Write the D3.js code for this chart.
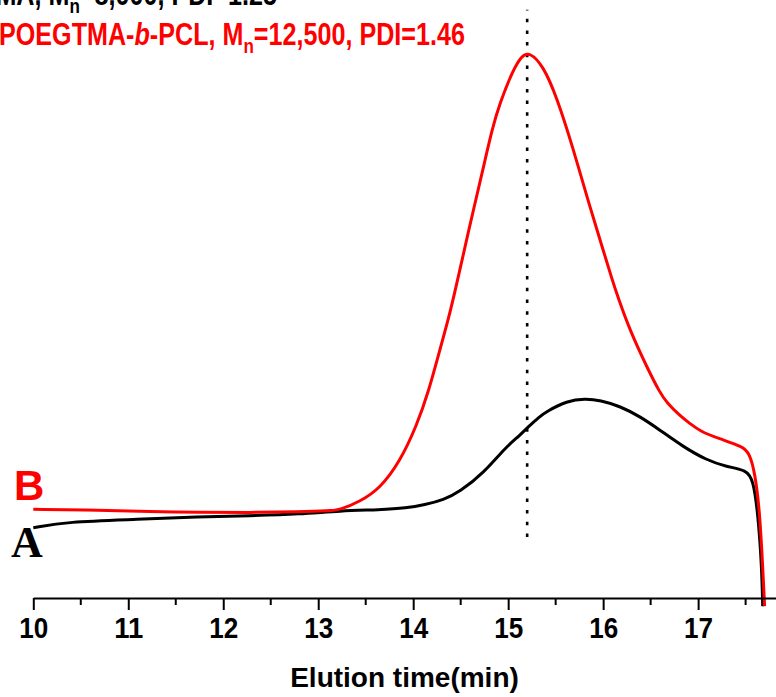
<!DOCTYPE html>
<html>
<head>
<meta charset="utf-8">
<script src="https://cdn.jsdelivr.net/npm/d3@7"></script>
<style>
  body { margin: 0; background: #fff; }
  svg { display: block; font-family: "Liberation Sans", Arial, sans-serif; }
</style>
</head>
<body>
<svg id="chart" width="776" height="697"></svg>
<script>
// GPC traces, elution time in min, RI signal normalised to the peak of trace B
// trace A (black, precursor)
const timeA = [10.00, 10.36, 11.05, 11.75, 12.28, 12.81, 13.23, 13.65, 13.93, 14.12,
               14.32, 14.49, 14.74, 14.98, 15.12, 15.21, 15.33, 15.40, 15.62, 15.81,
               15.97, 16.18, 16.39, 16.60, 16.84, 17.09, 17.30, 17.51, 17.58, 17.63,
               17.67, 17.68];
const signalA = [0.129, 0.140, 0.144, 0.149, 0.151, 0.154, 0.160, 0.162, 0.165, 0.171,
                 0.180, 0.195, 0.229, 0.278, 0.298, 0.314, 0.333, 0.342, 0.362, 0.366,
                 0.363, 0.352, 0.333, 0.308, 0.278, 0.253, 0.241, 0.235, 0.217, 0.155,
                 0.057, -0.015];
// trace B (red, block copolymer)
const timeB = [10.00, 10.70, 11.23, 11.75, 12.28, 12.81, 13.12, 13.23, 13.44, 13.65,
               13.86, 14.04, 14.16, 14.28, 14.39, 14.46, 14.58, 14.74, 14.83,
               14.91, 15.05, 15.14, 15.22, 15.37, 15.51, 15.68, 15.86, 16.00, 16.09,
               16.16, 16.28, 16.46, 16.60, 16.67, 16.81, 16.91, 17.02, 17.23, 17.47,
               17.54, 17.60, 17.65, 17.68, 17.70];
const signalB = [0.163, 0.161, 0.159, 0.157, 0.157, 0.158, 0.160, 0.162, 0.177, 0.201,
                 0.250, 0.318, 0.378, 0.455, 0.525, 0.578, 0.672, 0.791, 0.860,
                 0.908, 0.969, 0.995, 1.003, 0.977, 0.920, 0.828, 0.718, 0.639, 0.587,
                 0.550, 0.492, 0.424, 0.376, 0.359, 0.334, 0.321, 0.306, 0.292, 0.278,
                 0.266, 0.229, 0.155, 0.057, -0.015];

const majorTicks = [10, 11, 12, 13, 14, 15, 16, 17];
const minorTicks = [10.5, 11.5, 12.5, 13.5, 14.5, 15.5, 16.5, 17.5];

// dotted marker through the peak of B
const markerTime = 15.2;
const markerRange = [0.112, 1.08];

const legendA = ["POEGTMA, M", "n", "=8,000, PDI=1.25"];
const legendB = ["POEGTMA-", "b", "-PCL, M", "n", "=12,500, PDI=1.46"];

const svg = d3.select("#chart");

const x = d3.scaleLinear().domain([10, 17.82]).range([33.3, 776]);
const y = d3.scaleLinear().domain([0, 1]).range([598, 53.3]);

const line = d3.line()
  .x(d => x(d[0]))
  .y(d => y(d[1]))
  .curve(d3.curveBasis);

// dotted line
svg.append("line")
  .attr("x1", x(markerTime)).attr("x2", x(markerTime))
  .attr("y1", y(markerRange[0])).attr("y2", y(markerRange[1]))
  .attr("stroke", "#000")
  .attr("stroke-width", 2.6)
  .attr("stroke-dasharray", "3.5,8.2");

// traces
svg.append("path")
  .datum(d3.zip(timeA, signalA))
  .attr("d", line)
  .attr("fill", "none")
  .attr("stroke", "#000")
  .attr("stroke-width", 3);

svg.append("path")
  .datum(d3.zip(timeB, signalB))
  .attr("d", line)
  .attr("fill", "none")
  .attr("stroke", "#ff0000")
  .attr("stroke-width", 3);

// x axis: major ticks with labels, then minor ticks
const axisG = svg.append("g").attr("transform", "translate(0," + y(0) + ")");
axisG.call(d3.axisBottom(x).tickValues(majorTicks).tickSize(12).tickSizeOuter(0).tickPadding(7).tickFormat(d3.format("d")));
axisG.select(".domain").attr("stroke-width", 2.2);
axisG.selectAll(".tick line").attr("stroke-width", 2);
axisG.selectAll(".tick text")
  .attr("font-size", 30)
  .attr("font-weight", "bold")
  .attr("font-family", "'Liberation Sans', Arial, sans-serif")
  .attr("fill", "#000")
  .attr("textLength", 29)
  .attr("lengthAdjust", "spacingAndGlyphs");

axisG.selectAll(".minor")
  .data(minorTicks)
  .enter().append("line")
  .attr("class", "minor")
  .attr("x1", d => x(d)).attr("x2", d => x(d))
  .attr("y1", 0).attr("y2", 7)
  .attr("stroke", "#000")
  .attr("stroke-width", 2);

svg.append("text")
  .attr("x", 404.5).attr("y", 687)
  .attr("text-anchor", "middle")
  .attr("font-size", 28)
  .attr("font-weight", "bold")
  .text("Elution time(min)");

// curve labels
svg.append("text")
  .attr("x", 14).attr("y", 500)
  .attr("font-size", 42)
  .attr("font-weight", "bold")
  .attr("fill", "#ff0000")
  .text("B");

svg.append("text")
  .attr("x", 11).attr("y", 557)
  .attr("font-size", 44)
  .attr("font-weight", "bold")
  .attr("font-family", "'Liberation Serif', 'Times New Roman', serif")
  .attr("fill", "#000")
  .text("A");

// legend lines at the top, squeezed horizontally like the original
function legendLine(parts, italicIdx, subIdx, color) {
  const t = svg.append("text")
    .attr("font-size", 31)
    .attr("font-weight", "bold")
    .attr("fill", color);
  parts.forEach((p, i) => {
    const ts = t.append("tspan").text(p);
    if (i === italicIdx) ts.attr("font-style", "italic");
    if (i === subIdx) ts.attr("font-size", 21).attr("dy", 8);
    if (i === subIdx + 1) ts.attr("dy", -8);
  });
  return t;
}

const tB = legendLine(legendB, 1, 3, "#ff0000");
const tA = legendLine(legendA, -1, 1, "#000");

// fit red line to its extent in the original, black line ends at x=277 (its top is cut off there too)
const sB = 466 / tB.node().getBBox().width;
tB.attr("transform", "translate(-1,45) scale(" + sB + ",1)");
tA.attr("transform", "translate(" + (277 - tA.node().getBBox().width * sB) + ",5) scale(" + sB + ",1)");
</script>
</body>
</html>
